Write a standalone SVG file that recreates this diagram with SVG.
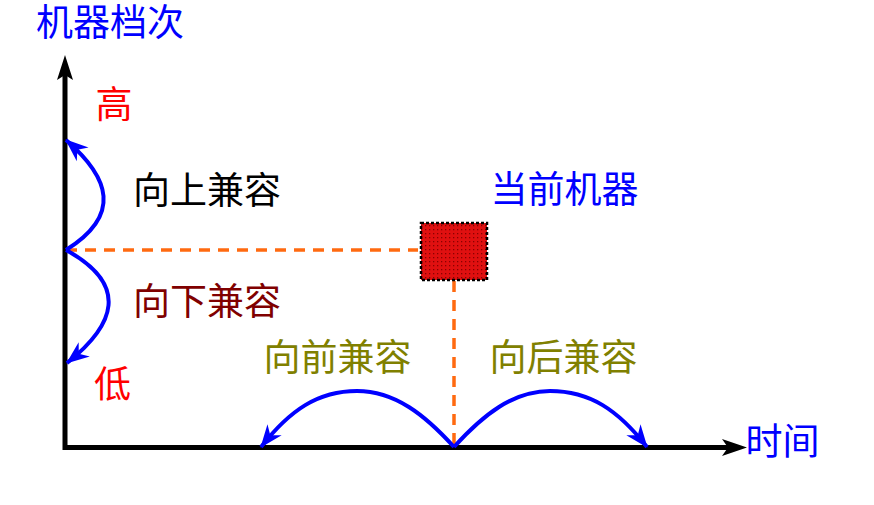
<svg xmlns="http://www.w3.org/2000/svg" width="874" height="505" viewBox="0 0 874 505">
<style>
text{font-family:"Noto Sans CJK SC","Noto Sans CJK JP",sans-serif;font-size:37px;text-anchor:middle}
.axis{stroke:#000;stroke-width:5;fill:none}
.dash{stroke:#FF6A10;stroke-width:3.5;stroke-dasharray:11 8;fill:none}
.arc{stroke:#0000FF;stroke-width:4;fill:none;marker-end:url(#bh)}
.blue{fill:#0000FF}.red{fill:#FF0000}.blk{fill:#000}.dred{fill:#800000}.olive{fill:#808000}
</style>
<defs>
<marker id="bh" markerUnits="userSpaceOnUse" markerWidth="40" markerHeight="40" viewBox="-30 -15 40 30" refX="0" refY="0" orient="auto">
<path d="M1,0 L-22,-9 L-15,0 L-22,9 Z" fill="#0000FF"/>
</marker>
<pattern id="dots" width="4" height="4" patternUnits="userSpaceOnUse">
<rect width="4" height="4" fill="#E01010"/>
<rect x="1" y="1" width="1.3" height="1.3" fill="#8A0000"/>
</pattern>
</defs>
<g id="connectors">
<line class="axis" x1="65" y1="450" x2="65" y2="72"/>
<path d="M65,55 L57,80 L65,75 L73,80 Z" fill="#000"/>
<line class="axis" x1="63" y1="447.5" x2="730" y2="447.5"/>
<path d="M747,447.5 L722,439 L728,447.5 L722,456 Z" fill="#000"/>
<line class="dash" x1="66" y1="250" x2="418" y2="250"/>
<line class="dash" x1="454" y1="281" x2="454" y2="445"/>
<path class="arc" d="M66,250 C122,215 110,178 66,140"/>
<path class="arc" d="M66,250 C130,285 115,325 67,363"/>
<path class="arc" d="M454,447 C425,415 395,391 357,391 C318,391 290,410 261,447"/>
<path class="arc" d="M454,447 C483,415 513,391 550,391 C590,391 618,410 647,447"/>
</g>
<g id="current">
<rect x="421" y="223" width="66" height="57" fill="url(#dots)" stroke="#000" stroke-width="2.5" stroke-dasharray="3 2"/>
</g>
<g id="labels">
<text class="blue" x="110" y="36">机器档次</text>
<text class="red" x="114" y="117.5">高</text>
<text class="blk" x="207" y="203.5">向上兼容</text>
<text class="blue" x="564.5" y="202.5">当前机器</text>
<text class="dred" x="207" y="315">向下兼容</text>
<text class="red" x="112.5" y="397.5">低</text>
<text class="olive" x="337.5" y="370.5">向前兼容</text>
<text class="olive" x="563.5" y="370.5">向后兼容</text>
<text class="blue" x="782.5" y="454.5">时间</text>
</g>
</svg>
